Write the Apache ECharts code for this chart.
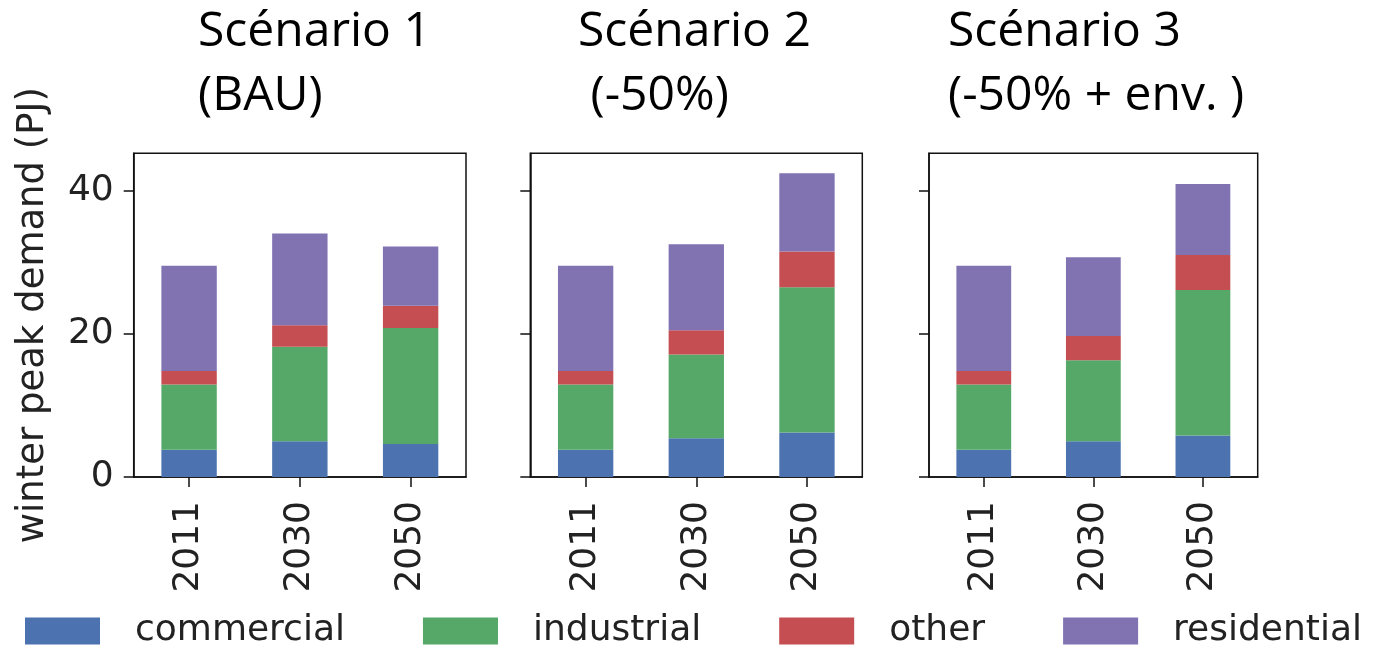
<!DOCTYPE html>
<html>
<head>
<meta charset="utf-8">
<script src="https://cdn.jsdelivr.net/npm/echarts@6/dist/echarts.min.js"></script>
<style>
  html, body { margin: 0; padding: 0; background: #fff; }
  #chart { width: 1373px; height: 648px; }
</style>
</head>
<body>
<div id="chart"></div>
<script>
// Winter peak demand (PJ) by sector, per scenario and year
const categories = ['2011', '2030', '2050'];
const sectorNames = ['commercial', 'industrial', 'other', 'residential'];
const sectorColors = ['#4c72b0', '#55a868', '#c44e52', '#8172b2'];

// one row per scenario, one value per year
const commercial  = [[3.8, 5.0, 4.6], [3.8, 5.4, 6.2], [3.8, 5.0, 5.8]];
const industrial  = [[9.1, 13.2, 16.2], [9.1, 11.7, 20.3], [9.1, 11.3, 20.3]];
const other       = [[1.9, 3.0, 3.1], [1.9, 3.4, 5.0], [1.9, 3.4, 4.9]];
const residential = [[14.7, 12.8, 8.3], [14.7, 12.0, 10.9], [14.7, 11.0, 9.9]];

const yTicks = [0, 20, 40];
const yMax = 45.2;
const yAxisTitle = 'winter peak demand (PJ)';

const scenarioTitles = [
  ['Scénario 1', '(BAU)'],
  ['Scénario 2', ' (-50%)'],
  ['Scénario 3', '(-50% + env. )']
];

const sectorData = [commercial, industrial, other, residential];

const panelLeft = [133.7, 530.3, 929];
const panelWidth = [332.3, 332, 328.7];
const panelTop = 153.3;
const panelHeight = 323.7;
const titleX = [198, 578, 948];

const tickFont = 'DejaVu Sans';
const ink = '#222';

const grids = [], xAxes = [], yAxes = [], series = [], graphics = [];

for (let p = 0; p < 3; p++) {
  grids.push({
    left: panelLeft[p], top: panelTop, width: panelWidth[p], height: panelHeight,
    show: true, borderColor: '#111', borderWidth: 1.5, backgroundColor: '#fff',
    containLabel: false
  });
  xAxes.push({
    type: 'category', gridIndex: p, data: categories,
    axisLine: { show: true, lineStyle: { color: '#111', width: 1.5 } },
    axisTick: { show: true, length: 10, alignWithLabel: true, lineStyle: { color: '#111', width: 1.5 } },
    axisLabel: { rotate: 90, margin: 24, fontSize: 36, fontFamily: tickFont, color: ink }
  });
  yAxes.push({
    type: 'value', gridIndex: p, min: 0, max: yMax,
    splitLine: { show: false },
    axisLine: { show: true, lineStyle: { color: '#111', width: 1.5 } },
    axisTick: { show: true, length: 10, customValues: yTicks, lineStyle: { color: '#111', width: 1.5 } },
    axisLabel: {
      show: p === 0, customValues: yTicks, margin: 20,
      fontSize: 36, fontFamily: tickFont, color: ink
    },
    name: p === 0 ? yAxisTitle : '',
    nameLocation: 'middle', nameGap: 82,
    nameTextStyle: { fontSize: 37, fontFamily: tickFont, color: ink }
  });
  for (let s = 0; s < sectorNames.length; s++) {
    series.push({
      type: 'bar', name: sectorNames[s], stack: 'total' + p,
      xAxisIndex: p, yAxisIndex: p, barWidth: '50%',
      itemStyle: { color: sectorColors[s] },
      data: sectorData[s][p]
    });
  }
  graphics.push({
    type: 'text', left: titleX[p], top: 8,
    style: { text: scenarioTitles[p][0], font: '48px "Open Sans"', fill: '#000' }
  });
  graphics.push({
    type: 'text', left: titleX[p], top: 72,
    style: { text: scenarioTitles[p][1], font: '48px "Open Sans"', fill: '#000' }
  });
}

const chart = echarts.init(document.getElementById('chart'), null, { renderer: 'canvas' });
chart.setOption({
  animation: false,
  backgroundColor: '#fff',
  color: sectorColors,
  grid: grids,
  xAxis: xAxes,
  yAxis: yAxes,
  series: series,
  graphic: graphics,
  legend: {
    data: sectorNames,
    left: 25, top: 613, width: 1370, padding: 0,
    icon: 'rect', itemWidth: 75, itemHeight: 27, itemGap: 78,
    textStyle: { fontSize: 36, fontFamily: tickFont, color: ink, padding: [0, 0, 0, 30] }
  }
});
</script>
</body>
</html>
